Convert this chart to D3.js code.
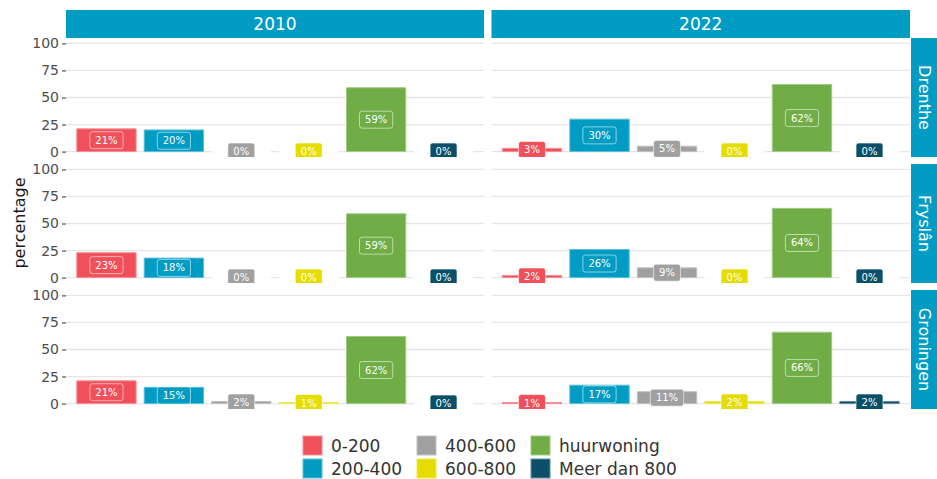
<!DOCTYPE html>
<html>
<head>
<meta charset="utf-8">
<script src="https://cdn.jsdelivr.net/npm/d3@7"></script>
<style>
  body { margin: 0; background: #fff; }
  text { font-family: "DejaVu Sans", sans-serif; }
</style>
</head>
<body>
<svg id="chart" width="937" height="479"></svg>
<script>
const categories = ["0-200", "200-400", "400-600", "600-800", "huurwoning", "Meer dan 800"];
const colours = ["#f0505a", "#009cc4", "#a0a0a0", "#e5dc00", "#70ad47", "#0b5068"];
const years = ["2010", "2022"];
const provinces = ["Drenthe", "Fryslân", "Groningen"];
// percentages per province (rows) per category
const pct2010 = [
  [21, 20, 0, 0, 59, 0],
  [23, 18, 0, 0, 59, 0],
  [21, 15, 2, 1, 62, 0]
];
const pct2022 = [
  [3, 30, 5, 0, 62, 0],
  [2, 26, 9, 0, 64, 0],
  [1, 17, 11, 2, 66, 2]
];
const yTicks = [0, 25, 50, 75, 100];

const svg = d3.select("#chart");
const stripBlue = "#009cc4";

const colX = [[66, 484], [491.5, 910]];
const rowTop = [38, 164, 290];
const panelH = 119;

const colour = d3.scaleOrdinal().domain(categories).range(colours);

// top strips
years.forEach((yr, c) => {
  svg.append("rect")
    .attr("x", colX[c][0]).attr("y", 10)
    .attr("width", colX[c][1] - colX[c][0]).attr("height", 28)
    .attr("fill", stripBlue);
  svg.append("text")
    .attr("x", (colX[c][0] + colX[c][1]) / 2).attr("y", 24)
    .attr("text-anchor", "middle").attr("dominant-baseline", "central")
    .attr("fill", "#fff").attr("font-size", 17)
    .text(yr);
});

// right strips
provinces.forEach((p, r) => {
  svg.append("rect")
    .attr("x", 911).attr("y", rowTop[r])
    .attr("width", 26).attr("height", panelH)
    .attr("fill", stripBlue);
  const cy = rowTop[r] + panelH / 2;
  svg.append("text")
    .attr("transform", `translate(924,${cy}) rotate(90)`)
    .attr("text-anchor", "middle").attr("dominant-baseline", "central")
    .attr("fill", "#fff").attr("font-size", 16)
    .text(p);
});

// y title
svg.append("text")
  .attr("transform", "translate(19,223) rotate(-90)")
  .attr("text-anchor", "middle").attr("dominant-baseline", "central")
  .attr("fill", "#1a1a1a").attr("font-size", 16)
  .text("percentage");

let clipId = 0;
provinces.forEach((p, r) => {
  const y = d3.scaleLinear().domain([-5, 105]).range([rowTop[r] + panelH, rowTop[r]]);

  // y axis
  const ax = svg.append("g")
    .attr("transform", `translate(${colX[0][0]},0)`)
    .call(d3.axisLeft(y).tickValues(yTicks).tickSize(4).tickPadding(3));
  ax.select(".domain").remove();
  ax.selectAll(".tick line").attr("stroke", "#333");
  ax.selectAll(".tick text").attr("fill", "#4d4d4d").attr("font-size", 14)
    .style("font-family", "DejaVu Sans, sans-serif");

  years.forEach((yr, c) => {
    const vals = (c === 0 ? pct2010 : pct2022)[r];
    const x = d3.scalePoint().domain(categories).range(colX[c]).padding(0.6);
    const bw = x.step() * 0.88;

    const id = "clip" + (clipId++);
    svg.append("clipPath").attr("id", id).append("rect")
      .attr("x", colX[c][0]).attr("y", rowTop[r])
      .attr("width", colX[c][1] - colX[c][0]).attr("height", panelH);

    const g = svg.append("g").attr("clip-path", `url(#${id})`);

    g.selectAll("line.grid")
      .data(yTicks)
      .join("line")
      .attr("class", "grid")
      .attr("x1", colX[c][0]).attr("x2", colX[c][1])
      .attr("y1", d => y(d)).attr("y2", d => y(d))
      .attr("stroke", "#e6e6e6").attr("stroke-width", 1.3);

    const rows = categories.map((cat, i) => ({cat, v: vals[i]}));

    // bars (drawn as paths so zero-height bars still show their white outline)
    g.selectAll("path.bar")
      .data(rows)
      .join("path")
      .attr("class", "bar")
      .attr("d", d => {
        const pth = d3.path();
        const x0 = x(d.cat) - bw / 2, y0 = y(0), y1 = y(d.v);
        pth.moveTo(x0, y0);
        pth.lineTo(x0 + bw, y0);
        pth.lineTo(x0 + bw, y1);
        pth.lineTo(x0, y1);
        pth.closePath();
        return pth.toString();
      })
      .attr("fill", d => colour(d.cat))
      .attr("stroke", d => d.v === 0 ? "#fff" : d3.interpolateRgb(colour(d.cat), "#fff")(0.35))
      .attr("stroke-width", d => d.v === 0 ? 1.6 : 1);

    // labels
    const lab = g.selectAll("g.lab")
      .data(rows)
      .join("g")
      .attr("class", "lab")
      .attr("transform", d => `translate(${x(d.cat)},${y(d.v / 2)})`);
    lab.append("text")
      .attr("text-anchor", "middle").attr("dominant-baseline", "central")
      .attr("font-size", 10).attr("fill", "#fff")
      .text(d => d.v + "%");
    lab.each(function(d) {
      const gg = d3.select(this);
      const w = gg.select("text").node().getComputedTextLength() + 11;
      gg.insert("rect", "text")
        .attr("x", -w / 2).attr("y", -8.5)
        .attr("width", w).attr("height", 17)
        .attr("rx", 2.5)
        .attr("fill", colour(d.cat))
        .attr("stroke", "#fff").attr("stroke-opacity", 0.55).attr("stroke-width", 1);
    });
  });
});

// legend
const legCols = [303, 417, 531];
const legRows = [436, 459];
const leg = svg.append("g");
categories.forEach((cat, i) => {
  const cx = legCols[Math.floor(i / 2)], ry = legRows[i % 2];
  leg.append("rect")
    .attr("x", cx).attr("y", ry).attr("width", 19).attr("height", 19)
    .attr("fill", colour(cat))
    .attr("stroke", d3.interpolateRgb(colour(cat), "#fff")(0.35)).attr("stroke-width", 1);
  leg.append("text")
    .attr("x", cx + 28).attr("y", ry + 10)
    .attr("dominant-baseline", "central")
    .attr("font-size", 17).attr("fill", "#333")
    .text(cat);
});
</script>
</body>
</html>
